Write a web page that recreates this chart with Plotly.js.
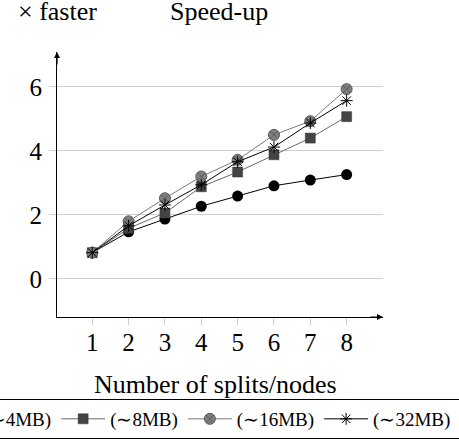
<!DOCTYPE html>
<html>
<head>
<meta charset="utf-8">
<script src="https://cdn.plot.ly/plotly-3.0.1.min.js"></script>
<style>
html,body{margin:0;padding:0;width:459px;height:440px;overflow:hidden;background:#fff;}
#chart{position:absolute;left:-250px;top:0;width:800px;height:440px;}
</style>
</head>
<body>
<div id="chart"></div>
<script>
// Data
const splits = [1, 2, 3, 4, 5, 6, 7, 8];
const seriesNames = ['(\u223C4MB)', '(\u223C8MB)', '(\u223C16MB)', '(\u223C32MB)\u00A0\u00A0\u00A0'];
const speedup4MB  = [0.82, 1.47, 1.87, 2.27, 2.59, 2.91, 3.09, 3.26];
const speedup8MB  = [0.82, 1.58, 2.06, 2.88, 3.34, 3.88, 4.40, 5.07];
const speedup16MB = [0.82, 1.80, 2.52, 3.20, 3.72, 4.50, 4.93, 5.93];
const speedup32MB = [0.82, 1.66, 2.31, 2.94, 3.66, 4.12, 4.87, 5.57];
const yTicks = [0, 2, 4, 6];

const FONT = 'Liberation Serif';

const traces = [
  {x: splits, y: speedup4MB, name: seriesNames[0], mode: 'lines+markers',
   line: {color: '#000000', width: 1},
   marker: {symbol: 'circle', size: 11, color: '#000000', line: {width: 0}}},
  {x: splits, y: speedup8MB, name: seriesNames[1], mode: 'lines+markers',
   line: {color: '#6a6a6a', width: 1},
   marker: {symbol: 'square', size: 10, color: '#444444', line: {width: 0.5, color: '#333333'}}},
  {x: splits, y: speedup16MB, name: seriesNames[2], mode: 'lines+markers',
   line: {color: '#7a7a7a', width: 1},
   marker: {symbol: 'circle-x', size: 11, color: '#7f7f7f', line: {width: 1, color: '#5a5a5a'}}},
  {x: splits, y: speedup32MB, name: seriesNames[3], mode: 'lines+markers',
   line: {color: '#000000', width: 1},
   marker: {symbol: 'asterisk-open', size: 10, color: '#000000', line: {width: 1, color: '#000000'}}}
];

// plot area in div coords: x 307..633, y 52..317
const layout = {
  width: 800, height: 440,
  margin: {l: 307, r: 167, t: 52, b: 123, pad: 0, autoexpand: false},
  paper_bgcolor: '#ffffff', plot_bgcolor: '#ffffff',
  font: {family: FONT, color: '#000000'},
  showlegend: true,
  legend: {
    orientation: 'h', x: -0.3945, xanchor: 'left', y: -0.3094, yanchor: 'top',
    xref: 'paper', yref: 'paper',
    bordercolor: '#000000', borderwidth: 1, bgcolor: '#ffffff',
    font: {family: FONT, size: 19, color: '#000000'},
    itemwidth: 44, itemclick: false, itemdoubleclick: false
  },
  xaxis: {
    range: [0.03, 9], tickvals: splits, ticktext: splits.map(String),
    showline: true, linecolor: '#000000', linewidth: 1,
    showgrid: false, zeroline: false,
    ticks: 'outside', ticklen: 7, tickwidth: 1, tickcolor: '#cccccc',
    ticklabelstandoff: -4,
    tickfont: {family: FONT, size: 25, color: '#000000'},
    fixedrange: true
  },
  xaxis2: {
    overlaying: 'x', matches: 'x', anchor: 'y', side: 'bottom',
    range: [0.03, 9], tickvals: splits,
    showline: false, showgrid: false, zeroline: false, showticklabels: false,
    ticks: 'inside', ticklen: 6, tickwidth: 1, tickcolor: '#cccccc',
    fixedrange: true
  },
  yaxis: {
    range: [-1.19, 7.09], tickvals: yTicks, ticktext: yTicks.map(String),
    showline: true, linecolor: '#000000', linewidth: 1,
    showgrid: true, gridcolor: '#cfcfcf', gridwidth: 1, zeroline: false,
    ticks: 'outside', ticklen: 7, tickwidth: 1, tickcolor: '#cfcfcf',
    ticklabelstandoff: 2,
    tickfont: {family: FONT, size: 25, color: '#000000'},
    fixedrange: true
  },
  annotations: [
    {text: 'Speed-up', xref: 'paper', yref: 'paper', x: 0.497, y: 1.1536,
     xanchor: 'center', yanchor: 'middle', showarrow: false,
     font: {family: FONT, size: 26, color: '#000000'}},
    {text: '\u00D7 faster', xref: 'paper', yref: 'paper', x: 0.1288, y: 1.1536,
     xanchor: 'right', yanchor: 'middle', showarrow: false,
     font: {family: FONT, size: 26, color: '#000000'}},
    {text: 'Number of splits/nodes', xref: 'paper', yref: 'paper', x: 0.486, y: -0.2566,
     xanchor: 'center', yanchor: 'middle', showarrow: false,
     font: {family: FONT, size: 26, color: '#000000'}},
    {text: '', xref: 'paper', yref: 'paper', x: 0, y: 1, ax: 0, ay: 14,
     showarrow: true, arrowhead: 2, arrowsize: 1, arrowwidth: 1.2, arrowcolor: '#000000', standoff: 0},
    {text: '', xref: 'paper', yref: 'paper', x: 1, y: 0, ax: -14, ay: 0,
     showarrow: true, arrowhead: 2, arrowsize: 1, arrowwidth: 1.2, arrowcolor: '#000000', standoff: 0}
  ]
};

Plotly.newPlot('chart', traces, layout, {displayModeBar: false, staticPlot: true});
</script>
</body>
</html>
